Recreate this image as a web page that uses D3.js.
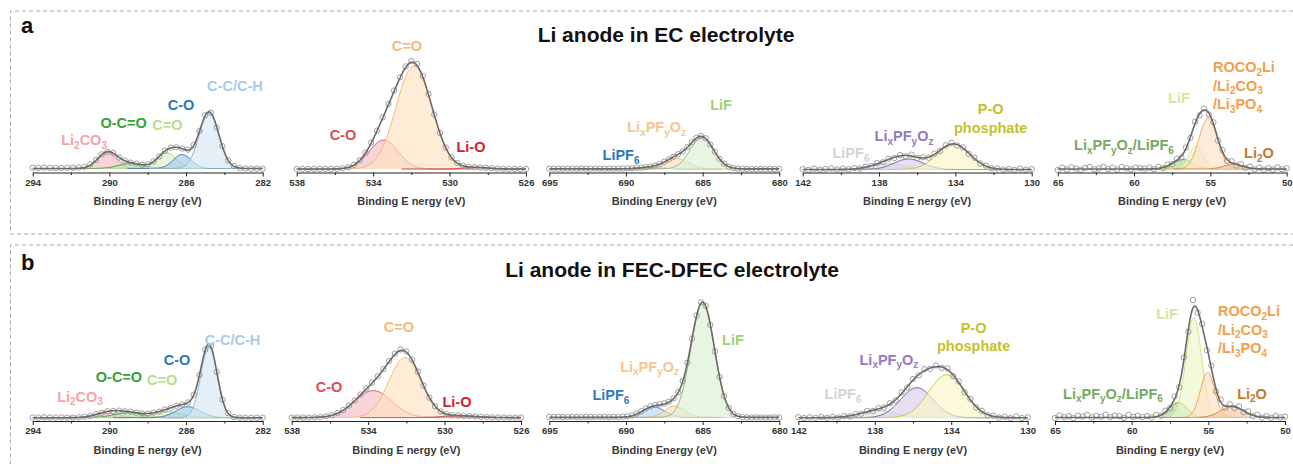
<!DOCTYPE html>
<html>
<head>
<meta charset="UTF-8">
<title>XPS of Li anodes</title>
<script src="https://d3js.org/d3.v7.min.js"></script>
<style>
  body { margin: 0; background: #fff; }
  text { font-family: "Liberation Sans", Arial, Helvetica, sans-serif; }
</style>
</head>
<body>
<script>
var W = 1293, H = 464;

// spectral regions (same for both rows)
var regions = ["C 1s", "O 1s", "F 1s", "P 2p", "Li 1s"];
var energyRanges = [[294, 282], [538, 526], [695, 680], [142, 130], [65, 50]];
var majorTicks = [[294, 290, 286, 282], [538, 534, 530, 526], [695, 690, 685, 680], [142, 138, 134, 130], [65, 60, 55, 50]];
var minorTicks = [[292, 288, 284], [536, 532, 528], [692.5, 687.5, 682.5], [140, 136, 132], [62.5, 57.5, 52.5]];
var axisTitles = ["Binding E nergy (eV)", "Binding E nergy (eV)", "Binding Energy (eV)", "Binding E nergy (eV)", "Binding E nergy (eV)"];
var rawStep = 0.3;   // eV between measured points

// fitted components, "_" marks a one-character subscript, "|" a line break
var componentNames = [
  ["Li_2CO_3", "O-C=O", "C=O", "C-O", "C-C/C-H"],
  ["C-O", "C=O", "Li-O"],
  ["LiPF_6", "Li_xPF_yO_z", "LiF"],
  ["LiPF_6", "Li_xPF_yO_z", "P-O|phosphate"],
  ["Li_xPF_yO_z/LiPF_6", "LiF", "ROCO_2Li|/Li_2CO_3|/Li_3PO_4", "Li_2O"]
];

var rowTitles = ["Li anode in EC electrolyte", "Li anode in FEC-DFEC electrolyte"];
var rowLetters = ["a", "b"];

// ---- row a : EC electrolyte ----
var ecCenters = [[290.1, 288.9, 287.0, 286.2, 284.8], [533.45, 531.86, 528.6], [688.4, 686.7, 685.05], [137.5, 136.45, 134.1], [56.8, 55.95, 55.14, 53.5]];
var ecFwhm = [[1.2, 1.5, 1.2, 1.1, 1.2], [1.8, 2.2, 1.5], [1.8, 1.8, 1.8], [2.0, 1.8, 2.0], [1.6, 1.1, 1.4, 1.5]];
var ecHeights = [[16, 5, 15.5, 14, 56.5], [29, 103, 1.5], [1.5, 10.5, 31.5], [6, 10.5, 25.5], [9.5, 23, 51, 4.5]];
var ecBackground = [4, 3.5, 3.6, 3, 3.5];
var ecRaw = [
  [4.8,4.6,4.9,4.7,4.5,4.6,4.8,4.7,5.0,5.6,8.2,12.4,18.1,20.6,19.6,15.0,12.1,9.9,8.9,7.7,8.2,11.1,16.0,21.8,24.8,25.4,24.0,22.9,27.4,41.5,57.2,59.8,45.0,26.3,12.0,6.4,4.5,4.0,3.8,3.9,3.7],
  [3.5,3.6,3.5,3.6,3.6,3.7,3.6,3.8,4.2,5.3,7.8,12.3,19.8,29.9,41.8,55.2,68.5,82.0,95.2,106.0,111.5,108.6,96.4,78.5,58.0,39.6,25.0,15.2,9.6,6.8,5.8,5.4,5.0,4.6,4.3,3.9,3.7,3.5,3.6,3.4,3.5],
  [3.8,3.9,3.7,3.8,3.9,3.8,3.7,3.9,3.8,3.8,3.9,3.8,3.7,3.9,3.8,3.9,3.9,4.1,4.2,4.6,4.9,5.3,6.1,7.0,8.6,10.7,13.0,15.8,18.3,21.0,25.3,30.2,34.8,36.5,34.2,28.0,20.8,13.6,8.9,5.8,4.5,3.9,3.7,3.5,3.5,3.4,3.5,3.4,3.5,3.4,3.5],
  [3.4,2.6,3.8,2.9,3.5,4.1,3.0,3.9,3.2,4.4,4.0,5.9,6.4,9.4,10.2,13.8,14.5,17.4,16.2,17.8,14.6,15.2,14.8,18.9,21.6,27.2,29.6,27.0,25.1,18.6,14.8,9.0,6.9,4.2,4.1,3.0,3.6,2.7,3.8,2.9,3.5],
  [2.6,4.8,3.1,5.2,3.9,2.8,4.6,5.5,3.2,4.1,5.8,3.4,4.9,3.0,5.6,4.2,3.3,5.0,4.4,3.8,4.9,3.4,5.6,4.3,7.9,8.4,13.6,15.1,25.0,34.6,50.8,57.2,64.0,58.1,50.2,31.9,22.4,11.6,11.2,7.1,8.3,4.7,5.9,3.1,4.9,2.8,4.4,3.0,5.1,3.3,4.2]
];

// ---- row b : FEC-DFEC electrolyte ----
var fecCenters = [[290.1, 289.0, 287.0, 285.9, 284.8], [533.73, 532.07, 529.2], [688.2, 686.8, 685.0], [137.8, 135.8, 134.24], [56.95, 55.95, 55.05, 53.45]];
var fecFwhm = [[1.5, 1.8, 1.6, 1.5, 1.0], [2.3, 2.0, 2.0], [1.7, 1.5, 1.8], [2.2, 2.0, 2.2], [1.4, 1.2, 1.1, 1.8]];
var fecHeights = [[4.5, 5, 6, 11, 71], [27, 60, 1.8], [10.5, 11.5, 115], [7, 30, 43], [15, 100, 45, 11]];
var fecBackground = [3.3, 3.4, 3.6, 3.3, 3.5];
var fecRaw = [
  [3.5,3.4,3.6,3.5,3.4,3.6,3.5,3.4,3.7,4.2,5.0,6.8,8.1,9.8,10.0,10.4,9.7,9.3,8.2,7.7,7.3,8.4,9.4,11.5,13.0,15.2,16.6,18.5,26.2,46.0,71.5,75.0,49.2,21.4,7.9,4.0,3.3,3.2,3.3,3.2,3.3],
  [3.4,3.5,3.4,3.5,3.6,3.9,4.6,5.8,7.9,11.0,15.4,20.6,26.5,32.6,38.5,44.6,51.9,60.0,67.4,71.6,69.5,61.4,49.3,35.4,23.4,14.8,9.5,7.0,5.9,5.5,5.2,4.9,4.6,4.2,3.9,3.6,3.5,3.4,3.5,3.4,3.4],
  [4.1,4.0,4.2,4.0,3.9,4.1,4.0,3.9,4.1,4.0,3.9,4.0,4.1,3.9,4.1,4.0,4.3,4.7,5.6,7.4,9.8,12.6,14.8,16.0,16.7,17.6,19.3,22.6,28.8,40.0,58.2,82.4,105.6,118.6,115.2,96.0,69.6,44.0,24.8,13.0,7.2,4.8,3.9,3.6,3.5,3.6,3.5,3.4,3.5,3.6,3.5],
  [3.8,2.9,3.6,3.1,4.0,3.2,4.1,3.5,4.9,4.6,6.9,7.2,10.1,10.0,12.9,13.6,17.8,20.7,28.6,33.5,42.0,45.6,51.8,52.2,55.6,53.1,52.6,44.9,39.6,28.7,22.0,13.6,10.2,5.7,5.3,3.4,4.2,2.9,4.6,3.0,3.7],
  [3.0,5.6,3.8,4.9,2.9,5.2,4.4,6.1,3.6,5.0,4.2,6.3,3.9,5.4,4.8,3.2,6.0,4.1,5.3,3.9,5.1,3.6,6.2,5.2,10.3,12.8,24.6,33.8,63.5,89.2,121.0,108.4,97.0,70.8,55.4,29.6,21.5,13.2,16.8,12.9,14.6,8.9,9.6,4.8,6.2,3.4,4.9,3.2,5.0,3.6,4.4]
];

// label anchors in data coordinates [binding energy, intensity]
var ecLabelPos = [
  [[291.32, 32.5], [289.26, 49.5], [286.97, 47.5], [286.26, 67.5], [283.45, 86.5]],
  [[535.58, 37.5], [532.23, 126.5], [528.88, 25.5]],
  [[690.32, 17.5], [688.0, 45.5], [683.8, 67.5]],
  [[139.47, 19.5], [136.69, 36.5], [132.15, 63.5]],
  [[60.66, 27.5], [57.06, 74.5], [54.83, 105.5], [51.82, 19.5]]
];
var fecLabelPos = [
  [[291.53, 24.3], [289.5, 44.3], [287.25, 41.7], [286.47, 61.7], [283.58, 81]],
  [[536.05, 34], [532.39, 94.3], [529.35, 19.3]],
  [[690.98, 26], [688.46, 54.3], [683.02, 81]],
  [[139.66, 27], [137.26, 61.7], [132.83, 93.7]],
  [[61.22, 27.7], [57.69, 107.7], [54.37, 110], [52.15, 27.7]]
];

// styles
var compFills = [
  ["#f7b9bd", "#b9e0a8", "#dcefc6", "#a3c8e8", "#d6e7f5"],
  ["#f4bcc2", "#fde2c0", "#f4a0a0"],
  ["#b7d5ee", "#fbdfc0", "#dcefd1"],
  ["#e6e6e6", "#d8cceb", "#fbf6c6"],
  ["#acd394", "#eef6c9", "#fde0c5", "#f2c59c"]
];
var compStrokes = [
  ["#e9848b", "#2f9a2f", "#a3d477", "#2a72b5", "#8ab6dc"],
  ["#d54a58", "#f3b66c", "#d0202a"],
  ["#2e78b8", "#f0b274", "#7fb86a"],
  ["#c8c8c8", "#6a4c9c", "#c9c233"],
  ["#4e8e3a", "#cfe38c", "#f0a24a", "#d07a2a"]
];
var labelColors = [
  ["#f4a3a6", "#36a336", "#b4df8c", "#2b79b9", "#a9cbe6"],
  ["#e04c58", "#f6bb76", "#d42030"],
  ["#2e7ab9", "#f7c690", "#a2d173"],
  ["#d4d4d4", "#9579c2", "#c4c12b"],
  ["#76aa63", "#d3e79c", "#f2a04a", "#c8782a"]
];

var rowAxisY = [172.5, 421];
var rowPanelX = [
  [[32.7, 262.7], [296.7, 526], [549.3, 779.3], [802.7, 1031.7], [1057.7, 1286.7]],
  [[32.7, 262.7], [291.7, 521], [549.3, 779.3], [798.3, 1027.7], [1055, 1285]]
];
var rowBox = [[11, 234], [245, 480]];
var rowTitleY = [41.5, 276.5];
var rowLetterY = [33.3, 270];

var rowCenters = [ecCenters, fecCenters];
var rowFwhm = [ecFwhm, fecFwhm];
var rowHeights = [ecHeights, fecHeights];
var rowBackground = [ecBackground, fecBackground];
var rowRaw = [ecRaw, fecRaw];
var rowLabelPos = [ecLabelPos, fecLabelPos];

// Gaussian fit component
function peakValue(e, c, w, h) {
  return h * Math.exp(-4 * Math.LN2 * (e - c) * (e - c) / (w * w));
}

var svg = d3.select("body").append("svg")
  .attr("width", W)
  .attr("height", H);

function drawLabel(g, text, x, y, color, anchor, gap) {
  text.split("|").forEach(function (line, li) {
    var t = g.append("text")
      .attr("x", x)
      .attr("y", y + li * gap + 5.2)
      .attr("text-anchor", anchor)
      .attr("font-size", 14.5)
      .attr("font-weight", "bold")
      .attr("fill", color);
    var parts = line.split(/_(.)/);
    var shifted = false;
    parts.forEach(function (p, pi) {
      if (p === "") return;
      var isSub = pi % 2 === 1;
      var ts = t.append("tspan").text(p);
      if (isSub) {
        ts.attr("font-size", 10).attr("dy", shifted ? 0 : 3.5);
        shifted = true;
      } else {
        if (shifted) ts.attr("dy", -3.5);
        shifted = false;
      }
    });
  });
}

rowTitles.forEach(function (title, r) {
  var top = rowBox[r][0], bottom = rowBox[r][1];
  svg.append("path")
    .attr("d", "M1293," + top + "H10.5V" + bottom + "H1293")
    .attr("fill", "none")
    .attr("stroke", "#a8a8a8")
    .attr("stroke-width", 1)
    .attr("stroke-dasharray", "4,3");

  svg.append("text")
    .attr("x", 21)
    .attr("y", rowLetterY[r])
    .attr("font-size", 22)
    .attr("font-weight", "bold")
    .attr("fill", "#111")
    .text(rowLetters[r]);

  svg.append("text")
    .attr("x", r === 0 ? 666 : 672)
    .attr("y", rowTitleY[r])
    .attr("text-anchor", "middle")
    .attr("font-size", 21)
    .attr("font-weight", "bold")
    .attr("fill", "#111")
    .text(title);

  var axisY = rowAxisY[r];
  var y = d3.scaleLinear().domain([0, 150]).range([axisY, axisY - 150]);

  regions.forEach(function (region, i) {
    var g = svg.append("g").attr("class", "panel");
    var dom = energyRanges[i];
    var x = d3.scaleLinear().domain(dom).range(rowPanelX[r][i]);
    var eHi = dom[0], eLo = dom[1];
    var bg = rowBackground[r][i];
    var centers = rowCenters[r][i], widths = rowFwhm[r][i], heights = rowHeights[r][i];

    // components
    centers.forEach(function (c, k) {
      var lo = Math.max(eLo, c - 2.6 * widths[k]);
      var hi = Math.min(eHi, c + 2.6 * widths[k]);
      var pts = d3.range(lo, hi, 0.02).concat([hi]).map(function (e) {
        return [e, peakValue(e, c, widths[k], heights[k])];
      });
      g.append("path")
        .datum(pts)
        .attr("d", d3.area()
          .x(function (d) { return x(d[0]); })
          .y0(y(bg))
          .y1(function (d) { return y(bg + d[1]); }))
        .attr("fill", compFills[i][k])
        .attr("fill-opacity", 0.65)
        .attr("stroke", "none");
      g.append("path")
        .datum(pts)
        .attr("d", d3.line()
          .x(function (d) { return x(d[0]); })
          .y(function (d) { return y(bg + d[1]); }))
        .attr("fill", "none")
        .attr("stroke", compStrokes[i][k])
        .attr("stroke-width", 1);
    });

    // measured points
    var raw = rowRaw[r][i].map(function (v, k) { return [eHi - k * rawStep, v]; });
    g.selectAll("circle")
      .data(raw)
      .enter()
      .append("circle")
      .attr("cx", function (d) { return x(d[0]); })
      .attr("cy", function (d) { return y(d[1]); })
      .attr("r", 2.7)
      .attr("fill", "none")
      .attr("stroke", "#959595")
      .attr("stroke-width", 0.9);

    // envelope = background + sum of components
    var env = d3.range(eLo, eHi, 0.02).concat([eHi]).map(function (e) {
      return [e, bg + d3.sum(centers, function (c, k) { return peakValue(e, c, widths[k], heights[k]); })];
    });
    g.append("path")
      .datum(env)
      .attr("d", d3.line()
        .x(function (d) { return x(d[0]); })
        .y(function (d) { return y(d[1]); }))
      .attr("fill", "none")
      .attr("stroke", "#6b6b6b")
      .attr("stroke-width", 1.6);

    // axis
    var ax = g.append("g")
      .attr("transform", "translate(0," + axisY + ")")
      .call(d3.axisBottom(x).tickValues(majorTicks[i]).tickSize(4).tickSizeOuter(0).tickPadding(2.5).tickFormat(d3.format("d")));
    ax.select(".domain").attr("stroke", "#222");
    ax.selectAll(".tick line").attr("stroke", "#222");
    ax.selectAll(".tick text")
      .attr("font-family", "Liberation Sans, Arial, sans-serif")
      .attr("font-size", 9.5)
      .attr("font-weight", "bold")
      .attr("fill", "#333");
    var mx = g.append("g")
      .attr("transform", "translate(0," + axisY + ")")
      .call(d3.axisBottom(x).tickValues(minorTicks[i]).tickSize(2.5).tickFormat(""));
    mx.select(".domain").remove();
    mx.selectAll(".tick line").attr("stroke", "#222");

    g.append("text")
      .attr("x", (rowPanelX[r][i][0] + rowPanelX[r][i][1]) / 2)
      .attr("y", axisY + 32.5)
      .attr("text-anchor", "middle")
      .attr("font-size", 11)
      .attr("font-weight", "bold")
      .attr("fill", "#3a3a3a")
      .text(axisTitles[i]);

    // component labels
    componentNames[i].forEach(function (name, k) {
      var pos = rowLabelPos[r][i][k];
      var anchor = name.indexOf("ROCO") === 0 ? "start" : "middle";
      drawLabel(g, name, x(pos[0]), y(pos[1]), labelColors[i][k], anchor, 18.5);
    });
  });
});
</script>
</body>
</html>
